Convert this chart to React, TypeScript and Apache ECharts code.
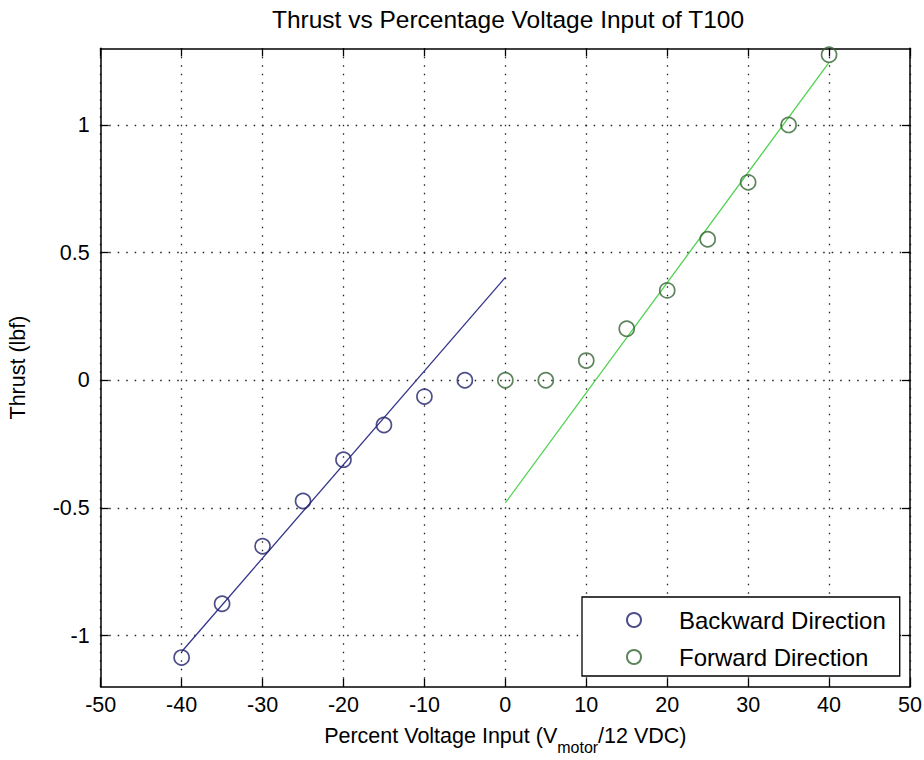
import React, { useEffect, useRef } from "react";
import * as echarts from "echarts";

const titleText = "Thrust vs Percentage Voltage Input of T100";
const backwardX = [-40, -35, -30, -25, -20, -15, -10, -5];
const backwardY = [-1.086, -0.875, -0.65, -0.473, -0.311, -0.175, -0.064, 0.0];
const forwardX = [0, 5, 10, 15, 20, 25, 30, 35, 40];
const forwardY = [0, 0, 0.077, 0.202, 0.352, 0.552, 0.775, 1.0, 1.275];
const backwardFitX = [-40, 0];
const backwardFitY = [-1.063, 0.403];
const forwardFitX = [0, 40];
const forwardFitY = [-0.48, 1.245];
const yTicks = [-1, -0.5, 0, 0.5, 1];
const xMin = -50;
const xMax = 50;
const xStep = 10;
const yMin = -1.2;
const yMax = 1.3;

const FONT = "'Liberation Sans', Arial, sans-serif";

const zip = (xs: number[], ys: number[]) => xs.map((x, i) => [x, ys[i]]);

export default function App() {
  const ref = useRef<HTMLDivElement>(null);
  useEffect(() => {
    if (!ref.current) return;
    const chart = echarts.init(ref.current, null, { renderer: "svg" });
    const dotted = { color: "#222", width: 1.3, type: [1.5, 7] as any };
    const tickStyle = { show: true, inside: true, length: 8, lineStyle: { color: "#000", width: 1.3 } };
    const axisLine = { show: true, onZero: false, lineStyle: { color: "#000", width: 1.5 } };
    chart.setOption({
      animation: false,
      backgroundColor: "#fff",
      title: {
        text: titleText,
        left: 503,
        top: 2,
        textAlign: "center",
        textStyle: { fontFamily: FONT, fontSize: 24.5, fontWeight: "normal", color: "#000" },
      },
      grid: { left: 100.7, right: 14, top: 48.3, bottom: 73.3, containLabel: false, outerBoundsMode: "none" },
      legend: {
        left: 582,
        top: 597,
        orient: "vertical",
        data: ["Backward Direction", "Forward Direction"],
        backgroundColor: "#fff",
        borderColor: "#000",
        borderWidth: 1.3,
        borderRadius: 0,
        padding: [11, 14, 7, 44],
        itemWidth: 14,
        itemHeight: 14,
        itemGap: 13,
        textStyle: { fontFamily: FONT, fontSize: 24, color: "#000", lineHeight: 23, padding: [0, 0, 0, 33] },
        z: 10,
      },
      xAxis: [
        {
          type: "value",
          min: xMin,
          max: xMax,
          interval: xStep,
          position: "bottom",
          axisLine,
          axisTick: tickStyle,
          axisLabel: { fontFamily: FONT, fontSize: 21.5, color: "#000", margin: 7 },
          splitLine: { show: true, lineStyle: dotted },
          name: "{n|Percent Voltage Input (V}{s|motor}{n|/12 VDC)}",
          nameLocation: "middle",
          nameGap: 38,
          nameTextStyle: {
            rich: {
              n: { fontFamily: FONT, fontSize: 21.5, color: "#000", verticalAlign: "bottom", padding: [0, 0, 9, 0] },
              s: { fontFamily: FONT, fontSize: 16, color: "#000", verticalAlign: "bottom" },
            },
          },
        },
        {
          type: "value",
          min: xMin,
          max: xMax,
          interval: xStep,
          position: "top",
          axisLine,
          axisTick: tickStyle,
          axisLabel: { show: false },
          splitLine: { show: false },
        },
      ],
      yAxis: [
        {
          type: "value",
          min: yMin,
          max: yMax,
          position: "left",
          axisLine,
          axisTick: { ...tickStyle, customValues: yTicks },
          axisLabel: { fontFamily: FONT, fontSize: 21.5, color: "#000", margin: 11, customValues: yTicks },
          splitLine: { show: true, lineStyle: dotted },
          name: "Thrust (lbf)",
          nameLocation: "middle",
          nameGap: 72,
          nameRotate: 90,
          nameTextStyle: { fontFamily: FONT, fontSize: 21.5, color: "#000" },
        },
        {
          type: "value",
          min: yMin,
          max: yMax,
          position: "right",
          axisLine,
          axisTick: { ...tickStyle, customValues: yTicks },
          axisLabel: { show: false, customValues: yTicks },
          splitLine: { show: false },
        },
      ],
      series: [
        {
          name: "Backward Fit",
          type: "line",
          data: zip(backwardFitX, backwardFitY),
          showSymbol: false,
          lineStyle: { color: "#34348a", width: 1.3 },
          z: 3,
        },
        {
          name: "Forward Fit",
          type: "line",
          data: zip(forwardFitX, forwardFitY),
          showSymbol: false,
          lineStyle: { color: "#4fd24f", width: 1.3 },
          z: 3,
        },
        {
          name: "Backward Direction",
          type: "scatter",
          data: zip(backwardX, backwardY),
          symbol: "circle",
          symbolSize: 15,
          itemStyle: { color: "rgba(255,255,255,0)", borderColor: "#22226a", borderWidth: 1.7 },
          z: 4,
        },
        {
          name: "Forward Direction",
          type: "scatter",
          data: zip(forwardX, forwardY),
          symbol: "circle",
          symbolSize: 15,
          itemStyle: { color: "rgba(255,255,255,0)", borderColor: "#356535", borderWidth: 1.7 },
          z: 4,
        },
      ],
    });
    return () => chart.dispose();
  }, []);
  return (
    <div
      ref={ref}
      style={{ position: "absolute", left: 0, top: 0, width: 924, height: 760, background: "#fff" }}
    />
  );
}
